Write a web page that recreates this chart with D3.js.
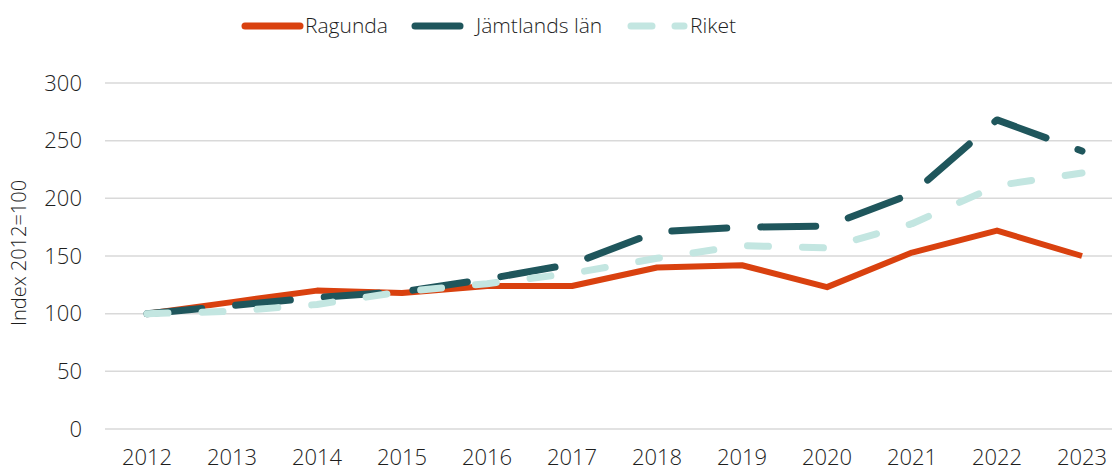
<!DOCTYPE html>
<html>
<head>
<meta charset="utf-8">
<script src="https://cdn.jsdelivr.net/npm/d3@7"></script>
<style>
  body { margin: 0; background: #fff; }
  svg { display: block; font-family: "Open Sans", Lato, sans-serif; font-weight: 300; }
</style>
</head>
<body>
<svg id="chart" width="1113" height="468"></svg>
<script>
var years = ["2012", "2013", "2014", "2015", "2016", "2017", "2018", "2019", "2020", "2021", "2022", "2023"];
var ragunda = [100, 110, 120, 118, 124, 124, 140, 142, 123, 153, 172, 150];
var jamtland = [100, 107, 114, 119, 130, 143, 171, 175, 176, 204, 268, 241];
var riket = [100, 102, 108, 119, 126, 135, 148, 159, 157, 178, 211, 222];
var yTicks = [0, 50, 100, 150, 200, 250, 300];

var series = [
  { name: "Ragunda", values: ragunda, color: "#d9410f", width: 6, dash: null, cap: "butt" },
  { name: "Jämtlands län", values: jamtland, color: "#1f565c", width: 7, dash: "55,34", cap: "round" },
  { name: "Riket", values: riket, color: "#c3e6e1", width: 7, dash: "21,34", cap: "round" }
];

var svg = d3.select("#chart");
var plotLeft = 105, plotRight = 1112, plotTop = 83, plotBottom = 429;

var x = d3.scalePoint().domain(years).range([147, 1082]);
var y = d3.scaleLinear().domain([0, 300]).range([plotBottom, plotTop]);

// grid
svg.append("g").selectAll("line").data(yTicks).enter().append("line")
  .attr("x1", plotLeft).attr("x2", plotRight)
  .attr("y1", d => y(d)).attr("y2", d => y(d))
  .attr("stroke", "#d9d9d9").attr("stroke-width", 1.5);

// y labels
svg.append("g").selectAll("text").data(yTicks).enter().append("text")
  .attr("x", 82).attr("y", d => y(d)).attr("dy", "0.35em")
  .attr("text-anchor", "end").attr("font-size", 22).attr("fill", "#1e1e1e")
  .text(d => d);

// x labels
svg.append("g").selectAll("text").data(years).enter().append("text")
  .attr("x", d => x(d)).attr("y", 457).attr("dy", "0.35em")
  .attr("text-anchor", "middle").attr("font-size", 22).attr("fill", "#1e1e1e")
  .text(d => d);

// axis title
svg.append("text")
  .attr("transform", "translate(26,253) rotate(-90)")
  .attr("text-anchor", "middle").attr("font-size", 20).attr("fill", "#1e1e1e")
  .text("Index 2012=100");

var line = d3.line()
  .x((d, i) => x(years[i]))
  .y(d => y(d));

svg.append("g").selectAll("path").data(series).enter().append("path")
  .attr("d", d => line(d.values))
  .attr("fill", "none")
  .attr("stroke", d => d.color)
  .attr("stroke-width", d => d.width)
  .attr("stroke-linecap", d => d.cap)
  .attr("stroke-linejoin", "round")
  .attr("stroke-dasharray", d => d.dash);

// legend
var legend = [
  { s: series[0], x1: 245, x2: 300, tx: 305 },
  { s: series[1], x1: 415, x2: 460, tx: 476 },
  { s: series[2], x1: 631, x2: 684, tx: 690 }
];
var lg = svg.append("g").selectAll("g").data(legend).enter().append("g");
lg.append("line")
  .attr("x1", d => d.x1).attr("x2", d => d.x2)
  .attr("y1", 26).attr("y2", 26)
  .attr("stroke", d => d.s.color)
  .attr("stroke-width", 7)
  .attr("stroke-linecap", "round")
  .attr("stroke-dasharray", d => d.s.name === "Riket" ? "21,23" : null);
lg.append("text")
  .attr("x", d => d.tx).attr("y", 26).attr("dy", "0.35em")
  .attr("font-size", 21).attr("fill", "#1e1e1e")
  .text(d => d.s.name);
</script>
</body>
</html>
